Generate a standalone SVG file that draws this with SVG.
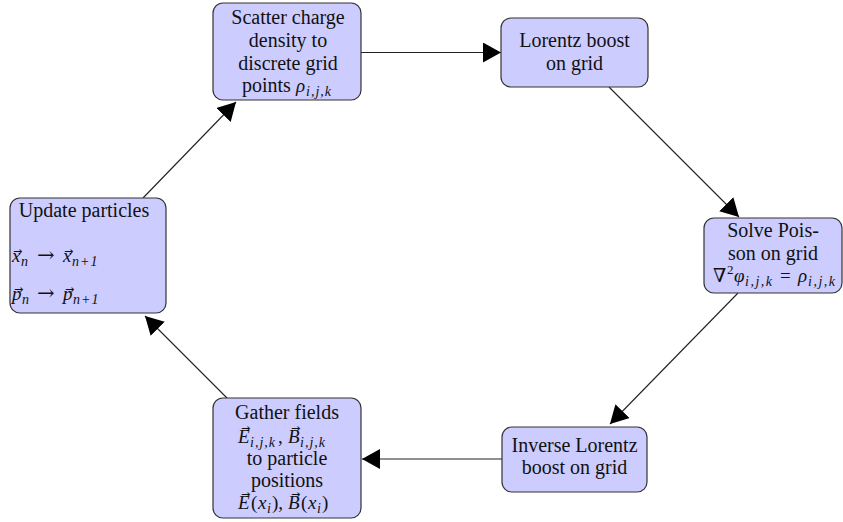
<svg xmlns="http://www.w3.org/2000/svg" width="843" height="522" viewBox="0 0 843 522">
<defs>
<marker id="ah" viewBox="0 0 18 20" refX="18" refY="10" markerWidth="18" markerHeight="20" orient="auto" markerUnits="userSpaceOnUse">
<path d="M0,0 L18,10 L0,20 z" fill="#000"/>
</marker>
<style>
.box{fill:#ccccff;stroke:#333;stroke-width:1.2}
.t{font-family:"Liberation Serif","DejaVu Serif",serif;font-size:20px;fill:#111}
.c{text-anchor:middle}
.m{font-family:"Liberation Serif","DejaVu Serif",serif;font-size:19px;font-style:italic;fill:#111}
.u{font-style:normal}
.ar{font-family:"DejaVu Serif",serif;font-size:21px;font-style:normal}
.s{font-size:14px;letter-spacing:1px}
.s2{font-size:14px;letter-spacing:1.5px}
.v{font-family:"DejaVu Sans",sans-serif;font-size:11px;fill:#111;text-anchor:middle}
.e{fill:none;stroke:#222;stroke-width:1.1;marker-end:url(#ah)}
</style>
</defs>
<g id="connectors">
<path class="e" d="M361,52.5 L501,52.5"/>
<path class="e" d="M609,87 L739,217"/>
<path class="e" d="M738,293 L610,424"/>
<path class="e" d="M502,459 L362,459"/>
<path class="e" d="M227,398 L145,316"/>
<path class="e" d="M143,198 L236,102"/>
</g>
<g id="scatter">
<rect class="box" x="213" y="3" width="148" height="97" rx="10"/>
<text class="t c" x="288" y="23.5">Scatter charge</text>
<text class="t c" x="288" y="46.5">density to</text>
<text class="t c" x="288" y="69.5">discrete grid</text>
<text class="t" x="242" y="92">points <tspan class="m" x="296">ρ</tspan><tspan class="m s" x="306" y="96">i,j,k</tspan></text>
</g>
<g id="lorentz">
<rect class="box" x="501" y="18" width="147" height="69" rx="10"/>
<text class="t c" x="574.5" y="47">Lorentz boost</text>
<text class="t c" x="574.5" y="70">on grid</text>
</g>
<g id="poisson">
<rect class="box" x="704" y="218" width="138" height="75" rx="10"/>
<text class="t c" x="773" y="237">Solve Pois-</text>
<text class="t c" x="773" y="260">son on grid</text>
<text class="m" y="282"><tspan class="u" x="713">∇</tspan><tspan class="u" style="font-size:13px" x="727" y="274">2</tspan><tspan x="734" y="282">φ</tspan><tspan class="s2" x="745" y="286">i,j,k</tspan><tspan class="u" x="780" y="282">=</tspan><tspan x="798" y="282">ρ</tspan><tspan class="s2" x="808" y="286">i,j,k</tspan></text>
</g>
<g id="update">
<rect class="box" x="10" y="198" width="156" height="115" rx="10"/>
<text class="t c" x="84" y="216.5">Update particles</text>
<text class="m" y="262"><tspan x="12">x</tspan><tspan class="s" x="21" y="266">n</tspan><tspan class="ar" x="37" y="262">→</tspan><tspan x="63" y="262">x</tspan><tspan class="s" x="72" y="266">n+1</tspan></text>
<text class="v" x="17.5" y="255">→</text>
<text class="v" x="68.5" y="255">→</text>
<text class="m" y="300"><tspan x="12">p</tspan><tspan class="s" x="22" y="304">n</tspan><tspan class="ar" x="37" y="300">→</tspan><tspan x="63" y="300">p</tspan><tspan class="s" x="73" y="304">n+1</tspan></text>
<text class="v" x="18.5" y="293">→</text>
<text class="v" x="69.5" y="293">→</text>
</g>
<g id="gather">
<rect class="box" x="213" y="398" width="148" height="120" rx="10"/>
<text class="t c" x="287" y="419">Gather fields</text>
<text class="m" y="442.5"><tspan x="238">E</tspan><tspan class="s" x="250" y="446.5">i,j,k</tspan><tspan class="u" x="278" y="442.5">,</tspan><tspan x="288" y="442.5">B</tspan><tspan class="s" x="300" y="446.5">i,j,k</tspan></text>
<text class="v" x="245.5" y="431.5">→</text>
<text class="v" x="295.5" y="431.5">→</text>
<text class="t c" x="287" y="465">to particle</text>
<text class="t c" x="287" y="487">positions</text>
<text class="m" y="508.5"><tspan x="238">E</tspan><tspan class="u" x="251">(</tspan><tspan x="258">x</tspan><tspan class="s" x="267" y="512.5">i</tspan><tspan class="u" x="272" y="508.5">),</tspan><tspan x="288">B</tspan><tspan class="u" x="301">(</tspan><tspan x="308">x</tspan><tspan class="s" x="317" y="512.5">i</tspan><tspan class="u" x="322" y="508.5">)</tspan></text>
<text class="v" x="245.5" y="497.5">→</text>
<text class="v" x="295.5" y="497.5">→</text>
</g>
<g id="inverse">
<rect class="box" x="502" y="427" width="145" height="65" rx="10"/>
<text class="t c" x="574.5" y="451.5">Inverse Lorentz</text>
<text class="t c" x="574.5" y="473.5">boost on grid</text>
</g>
</svg>
